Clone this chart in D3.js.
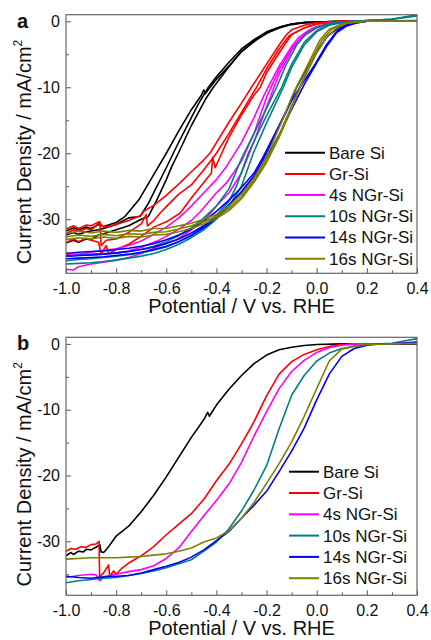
<!DOCTYPE html>
<html>
<head>
<meta charset="utf-8">
<script src="https://cdn.jsdelivr.net/npm/d3@7"></script>
<style>
  body { margin: 0; background: #fff; }
  text { font-family: Arial, 'Liberation Sans', sans-serif; fill: #111; }
</style>
</head>
<body>
<div id="chart"></div>
<script>
// legend / series
const samples = ['Bare Si', 'Gr-Si', '4s NGr-Si', '10s NGr-Si', '14s NGr-Si', '16s NGr-Si']
const sampleColors = ['#000000', '#ff0000', '#ff00ff', '#008080', '#0000ff', '#808000']

const potentialTicks = [-1.0, -0.8, -0.6, -0.4, -0.2, 0.0, 0.2, 0.4]
const potentialMinor = [-0.9, -0.7, -0.5, -0.3, -0.1, 0.1, 0.3]
const currentTicks = [0, -10, -20, -30]
const currentMinor = [-5, -15, -25, -35]

// panel a : repeated scans, [potential V, current mA/cm2]
const bareSiA = [
  [[-1.0,-31.8],[-0.97,-31.3],[-0.95,-31.6],[-0.92,-31.2],[-0.9,-31.4],[-0.87,-30.8],[-0.85,-31.1],[-0.8,-30.5],[-0.765,-29.6],[-0.71,-27.1],[-0.64,-22.6],[-0.6,-20.0],[-0.55,-16.6],[-0.5,-13.4],[-0.46,-11.2],[-0.45,-10.4],[-0.445,-11.0],[-0.4,-8.8],[-0.346,-6.6],[-0.3,-4.6],[-0.24,-2.8],[-0.19,-1.6],[-0.14,-0.8],[-0.1,-0.4],[-0.05,-0.2],[0,-0.1],[0.1,0],[0.4,0]],
  [[-1.0,-32.4],[-0.97,-32.0],[-0.95,-32.3],[-0.92,-31.9],[-0.9,-31.8],[-0.87,-31.6],[-0.85,-31.4],[-0.8,-30.8],[-0.75,-29.8],[-0.705,-29.6],[-0.67,-27.5],[-0.6,-22.2],[-0.572,-20.0],[-0.55,-18.3],[-0.5,-14.6],[-0.47,-12.4],[-0.432,-10.0],[-0.4,-8.4],[-0.35,-6.2],[-0.3,-4.2],[-0.25,-2.8],[-0.2,-1.6],[-0.15,-0.9],[-0.1,-0.4],[-0.05,-0.2],[0,-0.1],[0.1,0],[0.4,0]],
  [[-1.0,-33.6],[-0.97,-33.2],[-0.95,-33.5],[-0.92,-33.0],[-0.9,-33.1],[-0.87,-32.4],[-0.85,-32.2],[-0.8,-31.6],[-0.75,-31.0],[-0.7,-30.0],[-0.672,-29.6],[-0.638,-27.1],[-0.6,-24.0],[-0.578,-22.0],[-0.552,-20.0],[-0.5,-15.8],[-0.445,-11.9],[-0.412,-10.0],[-0.36,-7.4],[-0.306,-4.8],[-0.25,-3.0],[-0.2,-1.8],[-0.15,-1.0],[-0.1,-0.5],[-0.05,-0.2],[0,-0.1],[0.1,0],[0.4,0]]
]
const grSiA = [
  [[-1.0,-31.5],[-0.97,-31.0],[-0.95,-31.4],[-0.92,-30.9],[-0.9,-31.0],[-0.87,-30.4],[-0.85,-31.2],[-0.8,-30.8],[-0.75,-30.2],[-0.7,-29.4],[-0.69,-28.8],[-0.65,-27.9],[-0.6,-26.4],[-0.545,-24.5],[-0.5,-22.8],[-0.45,-21.0],[-0.426,-20.0],[-0.4,-18.4],[-0.35,-15.3],[-0.3,-12.4],[-0.26,-10.0],[-0.2,-6.5],[-0.15,-3.6],[-0.12,-2.0],[-0.1,-1.3],[-0.05,-0.6],[0,-0.2],[0.1,0],[0.4,0]],
  [[-1.0,-32.2],[-0.97,-31.6],[-0.95,-31.9],[-0.92,-31.4],[-0.9,-31.6],[-0.88,-31.0],[-0.865,-30.4],[-0.86,-34.0],[-0.84,-33.2],[-0.8,-33.0],[-0.75,-32.0],[-0.7,-30.7],[-0.68,-29.3],[-0.675,-31.0],[-0.65,-30.2],[-0.625,-29.1],[-0.6,-28.1],[-0.55,-26.2],[-0.5,-24.8],[-0.45,-22.5],[-0.4,-20.0],[-0.35,-17.0],[-0.3,-13.8],[-0.24,-10.0],[-0.2,-7.2],[-0.15,-4.2],[-0.11,-2.2],[-0.05,-1.0],[0,-0.4],[0.05,-0.1],[0.1,0],[0.4,0.1]],
  [[-1.0,-33.6],[-0.97,-33.0],[-0.95,-33.4],[-0.92,-32.9],[-0.9,-33.2],[-0.87,-33.5],[-0.86,-35.3],[-0.84,-34.0],[-0.83,-35.2],[-0.8,-34.6],[-0.75,-33.8],[-0.7,-32.6],[-0.65,-31.2],[-0.6,-30.4],[-0.545,-29.1],[-0.5,-26.8],[-0.452,-24.5],[-0.42,-23.0],[-0.415,-20.6],[-0.405,-22.2],[-0.379,-20.0],[-0.35,-17.6],[-0.3,-14.2],[-0.25,-11.2],[-0.225,-10.0],[-0.2,-7.8],[-0.15,-4.8],[-0.1,-2.0],[-0.05,-1.0],[0,-0.4],[0.1,0],[0.4,0]]
]
const ngr4sA = [
  [[-1.0,-35.4],[-0.95,-35.3],[-0.9,-35.0],[-0.85,-34.7],[-0.8,-34.5],[-0.75,-34.0],[-0.7,-33.3],[-0.65,-32.3],[-0.6,-31.2],[-0.55,-29.8],[-0.518,-28.7],[-0.45,-26.0],[-0.4,-24.0],[-0.36,-22.0],[-0.3,-18.4],[-0.25,-14.6],[-0.21,-11.2],[-0.15,-6.8],[-0.1,-3.8],[-0.07,-2.4],[-0.03,-1.3],[0,-0.8],[0.05,-0.3],[0.1,-0.1],[0.15,0],[0.4,0]],
  [[-1.0,-35.6],[-0.95,-35.4],[-0.9,-35.3],[-0.85,-35.2],[-0.8,-35.2],[-0.75,-34.8],[-0.7,-34.3],[-0.65,-33.5],[-0.625,-33.1],[-0.6,-32.6],[-0.55,-31.5],[-0.5,-30.2],[-0.465,-28.9],[-0.4,-26.0],[-0.36,-24.5],[-0.3,-21.2],[-0.25,-17.0],[-0.2,-11.5],[-0.15,-7.3],[-0.1,-4.1],[-0.05,-2.0],[0,-0.9],[0.05,-0.3],[0.1,-0.1],[0.15,0],[0.4,0]],
  [[-1.0,-37.6],[-0.97,-37.7],[-0.95,-37.2],[-0.9,-36.8],[-0.85,-36.5],[-0.8,-36.2],[-0.75,-35.8],[-0.7,-35.2],[-0.65,-34.4],[-0.6,-33.6],[-0.558,-33.1],[-0.5,-31.6],[-0.45,-30.0],[-0.426,-29.2],[-0.4,-28.0],[-0.35,-26.0],[-0.3,-23.0],[-0.25,-18.2],[-0.2,-13.0],[-0.15,-8.0],[-0.1,-4.4],[-0.05,-2.2],[0,-1.0],[0.05,-0.4],[0.1,-0.1],[0.15,0],[0.4,0]]
]
const ngr10sA = [
  [[-1.0,-35.6],[-0.95,-35.5],[-0.9,-35.4],[-0.85,-35.3],[-0.8,-35.1],[-0.75,-34.9],[-0.7,-34.6],[-0.65,-34.1],[-0.6,-33.4],[-0.55,-32.5],[-0.5,-31.3],[-0.45,-29.8],[-0.4,-28.0],[-0.35,-25.4],[-0.3,-20.8],[-0.25,-17.0],[-0.2,-13.2],[-0.16,-10.0],[-0.12,-6.4],[-0.08,-3.6],[-0.04,-1.8],[0,-0.9],[0.05,-0.3],[0.1,-0.1],[0.2,0.1],[0.3,0.3],[0.4,1.0]],
  [[-1.0,-36.3],[-0.95,-36.1],[-0.9,-36.0],[-0.85,-35.8],[-0.8,-35.6],[-0.75,-35.4],[-0.7,-35.1],[-0.65,-34.7],[-0.6,-34.2],[-0.55,-33.4],[-0.5,-32.4],[-0.45,-31.0],[-0.4,-29.4],[-0.35,-27.3],[-0.32,-25.0],[-0.273,-20.0],[-0.2,-14.3],[-0.14,-10.0],[-0.1,-6.5],[-0.05,-3.2],[0,-1.4],[0.05,-0.5],[0.1,-0.1],[0.2,0.1],[0.3,0.3],[0.4,0.9]],
  [[-1.0,-36.8],[-0.95,-36.7],[-0.9,-36.6],[-0.85,-36.4],[-0.8,-36.2],[-0.75,-35.9],[-0.7,-35.6],[-0.65,-35.2],[-0.6,-34.6],[-0.55,-33.8],[-0.5,-32.8],[-0.45,-31.6],[-0.4,-30.0],[-0.35,-28.0],[-0.3,-25.0],[-0.253,-20.0],[-0.2,-15.4],[-0.133,-10.0],[-0.1,-7.0],[-0.05,-3.6],[0,-1.6],[0.05,-0.6],[0.1,-0.2],[0.2,0.1],[0.3,0.3],[0.4,0.8]]
]
const ngr14sA = [
  [[-1.0,-35.2],[-0.95,-35.0],[-0.9,-34.9],[-0.85,-34.8],[-0.8,-34.6],[-0.75,-34.4],[-0.7,-34.1],[-0.65,-33.7],[-0.6,-33.1],[-0.55,-32.4],[-0.5,-31.5],[-0.45,-30.3],[-0.4,-28.8],[-0.35,-27.1],[-0.3,-25.2],[-0.25,-23.0],[-0.213,-20.5],[-0.17,-17.3],[-0.12,-13.5],[-0.08,-10.0],[-0.04,-7.2],[0,-4.6],[0.04,-2.4],[0.08,-1.2],[0.12,-0.5],[0.16,-0.2],[0.2,0],[0.4,0]],
  [[-1.0,-35.6],[-0.95,-35.5],[-0.9,-35.4],[-0.85,-35.3],[-0.8,-35.1],[-0.75,-34.9],[-0.7,-34.6],[-0.65,-34.2],[-0.6,-33.7],[-0.55,-33.0],[-0.5,-32.1],[-0.45,-31.0],[-0.4,-29.6],[-0.35,-27.8],[-0.3,-25.8],[-0.25,-23.5],[-0.2,-20.0],[-0.15,-16.0],[-0.1,-12.0],[-0.067,-10.0],[-0.013,-6.9],[0.04,-3.5],[0.08,-1.5],[0.12,-0.6],[0.16,-0.2],[0.2,0],[0.4,0]],
  [[-1.0,-36.0],[-0.95,-35.9],[-0.9,-35.8],[-0.85,-35.7],[-0.8,-35.5],[-0.75,-35.3],[-0.7,-35.0],[-0.65,-34.6],[-0.6,-34.1],[-0.55,-33.4],[-0.5,-32.5],[-0.45,-31.3],[-0.4,-29.8],[-0.35,-28.0],[-0.3,-25.9],[-0.25,-23.4],[-0.19,-20.0],[-0.14,-16.5],[-0.09,-12.6],[-0.05,-9.6],[0,-6.3],[0.04,-3.8],[0.08,-1.7],[0.12,-0.7],[0.16,-0.2],[0.2,0],[0.4,0]]
]
const ngr16sA = [
  [[-1.0,-32.2],[-0.95,-31.8],[-0.9,-32.1],[-0.85,-31.8],[-0.8,-32.0],[-0.75,-31.7],[-0.7,-31.8],[-0.65,-31.4],[-0.6,-31.4],[-0.55,-31.0],[-0.5,-30.6],[-0.45,-30.0],[-0.4,-29.3],[-0.35,-28.0],[-0.3,-26.2],[-0.25,-23.8],[-0.2,-20.5],[-0.16,-17.0],[-0.12,-13.4],[-0.093,-10.9],[-0.04,-6.9],[0.013,-2.8],[0.05,-1.2],[0.1,-0.4],[0.15,-0.1],[0.2,0],[0.4,0]],
  [[-1.0,-32.7],[-0.95,-32.4],[-0.9,-32.6],[-0.85,-32.3],[-0.8,-32.5],[-0.75,-32.2],[-0.7,-32.3],[-0.65,-32.0],[-0.6,-31.9],[-0.55,-31.5],[-0.5,-31.0],[-0.45,-30.4],[-0.4,-29.6],[-0.35,-28.4],[-0.3,-26.6],[-0.25,-24.1],[-0.2,-21.0],[-0.15,-17.2],[-0.1,-12.8],[-0.06,-9.3],[-0.02,-5.8],[0.02,-2.9],[0.06,-1.2],[0.1,-0.4],[0.15,-0.1],[0.2,0],[0.4,0]],
  [[-1.0,-33.1],[-0.95,-32.8],[-0.9,-33.0],[-0.85,-32.7],[-0.8,-32.9],[-0.75,-32.6],[-0.7,-32.7],[-0.65,-32.4],[-0.6,-32.3],[-0.55,-31.9],[-0.5,-31.4],[-0.45,-30.7],[-0.4,-29.9],[-0.35,-28.7],[-0.3,-26.9],[-0.25,-24.4],[-0.2,-21.4],[-0.15,-17.6],[-0.1,-13.2],[-0.05,-8.6],[0,-4.8],[0.04,-2.4],[0.08,-1.0],[0.12,-0.3],[0.2,0],[0.4,0]]
]

// panel b : one scan per sample
const bareSiB = [[-1.0,-32.2],[-0.98,-31.7],[-0.97,-32.0],[-0.95,-31.5],[-0.93,-31.6],[-0.92,-31.2],[-0.9,-31.3],[-0.88,-30.9],[-0.865,-30.5],[-0.86,-31.6],[-0.85,-31.7],[-0.84,-31.3],[-0.82,-30.3],[-0.8,-29.2],[-0.75,-27.7],[-0.7,-25.5],[-0.65,-23.0],[-0.6,-20.2],[-0.55,-17.2],[-0.5,-14.2],[-0.45,-11.5],[-0.435,-10.4],[-0.428,-11.0],[-0.4,-9.3],[-0.35,-6.9],[-0.3,-4.8],[-0.25,-3.0],[-0.2,-1.7],[-0.15,-0.9],[-0.1,-0.5],[-0.05,-0.25],[0,-0.1],[0.1,0],[0.2,0],[0.3,0],[0.4,0]]
const grSiB = [[-1.0,-31.5],[-0.98,-31.1],[-0.96,-31.2],[-0.94,-30.8],[-0.92,-30.9],[-0.9,-30.5],[-0.88,-30.4],[-0.868,-30.0],[-0.866,-35.4],[-0.85,-34.8],[-0.83,-33.6],[-0.826,-35.3],[-0.81,-34.5],[-0.8,-35.0],[-0.78,-34.2],[-0.75,-33.3],[-0.7,-32.2],[-0.65,-30.8],[-0.6,-29.0],[-0.55,-27.4],[-0.5,-25.8],[-0.45,-23.6],[-0.4,-20.8],[-0.35,-18.3],[-0.3,-15.2],[-0.27,-13.2],[-0.25,-11.8],[-0.2,-7.9],[-0.15,-4.6],[-0.1,-2.7],[-0.05,-1.6],[0,-0.9],[0.05,-0.4],[0.1,-0.1],[0.2,0],[0.3,0],[0.4,0.2]]
const ngr4sB = [[-1.0,-35.5],[-0.95,-35.2],[-0.9,-35.0],[-0.88,-35.1],[-0.865,-36.0],[-0.85,-35.4],[-0.8,-35.0],[-0.75,-34.6],[-0.7,-34.3],[-0.65,-33.7],[-0.6,-32.6],[-0.55,-31.0],[-0.5,-28.5],[-0.45,-26.1],[-0.4,-23.8],[-0.35,-21.3],[-0.3,-18.0],[-0.25,-14.0],[-0.2,-10.3],[-0.15,-6.8],[-0.1,-4.2],[-0.05,-2.5],[0,-1.3],[0.05,-0.6],[0.1,-0.2],[0.15,0],[0.3,0],[0.4,0.3]]
const ngr10sB = [[-1.0,-36.3],[-0.95,-36.0],[-0.9,-35.8],[-0.85,-35.6],[-0.8,-35.5],[-0.75,-35.2],[-0.7,-34.9],[-0.65,-34.5],[-0.6,-34.0],[-0.55,-33.4],[-0.5,-32.8],[-0.45,-31.5],[-0.4,-30.1],[-0.35,-28.1],[-0.3,-25.4],[-0.25,-22.2],[-0.2,-18.5],[-0.15,-12.9],[-0.1,-7.8],[-0.05,-4.8],[0,-2.6],[0.05,-1.4],[0.1,-0.7],[0.15,-0.4],[0.2,-0.1],[0.3,0.1],[0.4,0.8]]
const ngr14sB = [[-1.0,-35.3],[-0.95,-35.5],[-0.9,-35.6],[-0.85,-35.4],[-0.8,-35.3],[-0.75,-35.2],[-0.7,-34.8],[-0.65,-34.3],[-0.6,-33.8],[-0.55,-33.2],[-0.5,-32.4],[-0.45,-31.3],[-0.4,-29.9],[-0.35,-28.5],[-0.3,-26.5],[-0.25,-24.5],[-0.2,-22.4],[-0.15,-19.4],[-0.1,-16.3],[-0.05,-12.8],[0,-8.5],[0.05,-4.6],[0.1,-1.9],[0.15,-0.7],[0.2,-0.2],[0.25,0],[0.3,0],[0.4,0.2]]
const ngr16sB = [[-1.0,-32.7],[-0.95,-32.6],[-0.9,-32.5],[-0.85,-32.5],[-0.8,-32.5],[-0.75,-32.4],[-0.7,-32.3],[-0.65,-32.1],[-0.6,-31.9],[-0.55,-31.5],[-0.5,-31.0],[-0.45,-30.1],[-0.4,-29.5],[-0.35,-28.4],[-0.3,-26.5],[-0.25,-24.1],[-0.2,-21.2],[-0.15,-18.2],[-0.1,-14.9],[-0.05,-11.0],[0,-6.8],[0.05,-2.6],[0.1,-0.8],[0.15,-0.3],[0.2,-0.1],[0.3,0],[0.4,0.1]]

const panelAData = [bareSiA, grSiA, ngr4sA, ngr10sA, ngr14sA, ngr16sA]
const panelBData = [bareSiB, grSiB, ngr4sB, ngr10sB, ngr14sB, ngr16sB].map(c => [c])

const W = 431, H = 640
const margin = { left: 66, right: 14 }
const svg = d3.select('#chart').append('svg').attr('width', W).attr('height', H)

const x = d3.scaleLinear().domain([-1.0, 0.4]).range([margin.left, W - margin.right])

function drawPanel(data, letter, top, bottom, legendPos) {
  const y = d3.scaleLinear().domain([-38.2, 1]).range([bottom, top])
  const g = svg.append('g')

  const clipId = 'clip-' + letter
  g.append('clipPath').attr('id', clipId)
    .append('rect')
    .attr('x', x.range()[0]).attr('y', top)
    .attr('width', x.range()[1] - x.range()[0]).attr('height', bottom - top)

  const line = d3.line().x(d => x(d[0])).y(d => y(d[1]))
  const curves = g.append('g').attr('clip-path', `url(#${clipId})`)
  data.forEach((scans, i) => {
    curves.selectAll(null)
      .data(scans)
      .enter()
      .append('path')
      .attr('d', line)
      .attr('fill', 'none')
      .attr('stroke', sampleColors[i])
      .attr('stroke-width', 1.6)
      .attr('stroke-linejoin', 'round')
  })

  // ticks pointing into the plot
  g.append('g')
    .attr('transform', `translate(0,${bottom})`)
    .call(d3.axisBottom(x).tickValues(potentialTicks).tickSize(-5).tickPadding(9).tickFormat(d => d.toFixed(1)))
    .call(a => a.select('.domain').remove())
    .call(a => a.selectAll('text').attr('font-size', 16).attr('font-family', 'Arial, Liberation Sans, sans-serif').attr('fill', '#111'))
    .call(a => a.selectAll('line').attr('stroke', '#555'))
  g.append('g')
    .attr('transform', `translate(0,${bottom})`)
    .call(d3.axisBottom(x).tickValues(potentialMinor).tickSize(-3).tickFormat(''))
    .call(a => a.select('.domain').remove())
    .call(a => a.selectAll('line').attr('stroke', '#555'))

  g.append('g')
    .attr('transform', `translate(${x.range()[0]},0)`)
    .call(d3.axisLeft(y).tickValues(currentTicks).tickSize(-5).tickPadding(6).tickFormat(d => String(d)))
    .call(a => a.select('.domain').remove())
    .call(a => a.selectAll('text').attr('font-size', 16).attr('font-family', 'Arial, Liberation Sans, sans-serif').attr('fill', '#111'))
    .call(a => a.selectAll('line').attr('stroke', '#555'))
  g.append('g')
    .attr('transform', `translate(${x.range()[0]},0)`)
    .call(d3.axisLeft(y).tickValues(currentMinor).tickSize(-3).tickFormat(''))
    .call(a => a.select('.domain').remove())
    .call(a => a.selectAll('line').attr('stroke', '#555'))

  g.append('rect')
    .attr('x', x.range()[0]).attr('y', top)
    .attr('width', x.range()[1] - x.range()[0]).attr('height', bottom - top)
    .attr('fill', 'none').attr('stroke', '#666').attr('stroke-width', 1.2)

  // titles
  g.append('text')
    .attr('x', (x.range()[0] + x.range()[1]) / 2)
    .attr('y', bottom + 40)
    .attr('text-anchor', 'middle')
    .attr('font-size', 20)
    .text('Potential / V vs. RHE')

  const yt = g.append('text')
    .attr('transform', `translate(31,${(top + bottom) / 2 + 8}) rotate(-90)`)
    .attr('text-anchor', 'middle')
    .attr('font-size', 20)
  yt.append('tspan').text('Current Density / mA/cm')
  yt.append('tspan').attr('font-size', 12).attr('dy', -9).text('2')

  g.append('text')
    .attr('x', 17).attr('y', top + 13)
    .attr('font-size', 20).attr('font-weight', 'bold')
    .text(letter)

  // legend
  const lg = g.append('g').attr('transform', `translate(${legendPos.x},${legendPos.y})`)
  samples.forEach((s, i) => {
    const row = lg.append('g').attr('transform', `translate(0,${i * legendPos.step})`)
    row.append('line')
      .attr('x1', 0).attr('x2', legendPos.len)
      .attr('stroke', sampleColors[i]).attr('stroke-width', 2)
    row.append('text')
      .attr('x', legendPos.len + 4).attr('dy', '0.35em')
      .attr('font-size', 17)
      .text(s)
  })
}

drawPanel(panelAData, 'a', 14.7, 273.3, { x: 285, y: 152.7, step: 21.2, len: 40 })
drawPanel(panelBData, 'b', 337.3, 595.3, { x: 289, y: 471.7, step: 21.3, len: 30 })
</script>
</body>
</html>
